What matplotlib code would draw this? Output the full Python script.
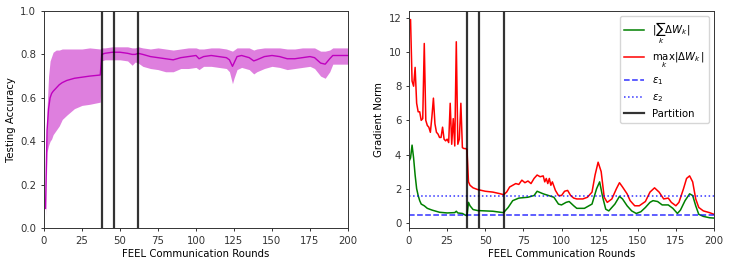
import matplotlib
matplotlib.use("Agg")
import matplotlib.pyplot as plt
import numpy as np

plt.rcParams['font.size'] = 7.3
plt.rcParams['axes.edgecolor'] = '#333333'
plt.rcParams['xtick.color'] = '#333333'
plt.rcParams['ytick.color'] = '#333333'
plt.rcParams['axes.linewidth'] = 0.7

# ---------------- Accuracy data ----------------
acc_rounds = [1, 2, 3, 4, 5, 6, 8, 10, 12, 15, 20, 25, 30, 37, 38, 40, 45, 50, 55, 58, 60, 62, 65,
              70, 75, 80, 85, 90, 95, 100, 102, 105, 110, 115, 120, 122, 124, 125, 127, 130, 135,
              138, 140, 145, 150, 155, 160, 165, 170, 175, 178, 182, 185, 188, 190, 195, 200]
acc_mean = [0.09, 0.45, 0.55, 0.60, 0.62, 0.63, 0.645, 0.66, 0.67, 0.68, 0.69, 0.695, 0.70, 0.705,
            0.80, 0.805, 0.81, 0.81, 0.805, 0.80, 0.80, 0.805, 0.80,
            0.79, 0.785, 0.78, 0.775, 0.785, 0.79, 0.795, 0.78, 0.79, 0.795, 0.79, 0.785, 0.775,
            0.745, 0.76, 0.79, 0.795, 0.785,
            0.77, 0.775, 0.79, 0.795, 0.79, 0.78, 0.78, 0.785, 0.79, 0.785, 0.76, 0.755, 0.78,
            0.795, 0.795, 0.795]
acc_upper = [0.10, 0.55, 0.70, 0.77, 0.79, 0.81, 0.82, 0.82, 0.825, 0.825, 0.825, 0.825, 0.83, 0.825,
             0.83, 0.83, 0.835, 0.835, 0.835, 0.83, 0.83, 0.835, 0.83,
             0.825, 0.83, 0.825, 0.82, 0.825, 0.83, 0.83, 0.825, 0.825, 0.83, 0.83, 0.825, 0.82,
             0.815, 0.82, 0.83, 0.83, 0.83,
             0.82, 0.825, 0.83, 0.83, 0.83, 0.825, 0.825, 0.83, 0.83, 0.83, 0.815, 0.815, 0.82,
             0.83, 0.83, 0.83]
acc_lower = [0.05, 0.35, 0.38, 0.40, 0.41, 0.43, 0.45, 0.47, 0.50, 0.52, 0.55, 0.565, 0.57, 0.58,
             0.77, 0.775, 0.775, 0.775, 0.77, 0.75, 0.765, 0.76, 0.745,
             0.735, 0.73, 0.72, 0.72, 0.735, 0.735, 0.74, 0.73, 0.745, 0.745, 0.74, 0.735, 0.72,
             0.665, 0.69, 0.73, 0.74, 0.73,
             0.71, 0.72, 0.735, 0.745, 0.74, 0.73, 0.735, 0.74, 0.745, 0.735, 0.70, 0.69, 0.72,
             0.755, 0.755, 0.755]

# ---------------- Gradient norm data ----------------
sum_rounds = [0, 1, 2, 3, 4, 5, 6, 7, 8, 10, 12, 15, 20, 25, 30, 31, 32, 35, 37, 38, 39, 40, 42,
              45, 50, 55, 60, 62, 65, 68, 72, 78, 82, 84, 88, 95, 98, 100, 103, 105, 108, 110, 115,
              120, 123, 125, 127, 129, 131, 135, 138, 140, 143, 146, 149, 152, 155, 158, 160, 163,
              166, 170, 173, 176, 178, 181, 184, 186, 188, 190, 193, 197, 200]
sum_norm = [3.6, 3.8, 4.55, 3.8, 2.8, 2.0, 1.6, 1.3, 1.1, 1.0, 0.85, 0.75, 0.62, 0.58, 0.6, 0.68,
            0.58, 0.55, 0.45, 0.42, 1.2, 1.0, 0.78, 0.72, 0.70, 0.68, 0.62, 0.60, 0.9, 1.3, 1.45,
            1.5, 1.6, 1.85, 1.7, 1.5, 1.1, 1.05, 1.2, 1.25, 1.0, 0.85, 0.85, 1.1, 2.0, 2.4, 1.5,
            0.8, 0.7, 1.1, 1.55, 1.4, 1.0, 0.7, 0.55, 0.65, 0.9, 1.2, 1.3, 1.25, 1.05, 1.05, 0.85,
            0.55, 0.75, 1.3, 1.7, 1.6, 1.0, 0.5, 0.38, 0.3, 0.28]

max_rounds = [0, 1, 2, 3, 4, 5, 6, 7, 8, 9, 10, 11, 12, 13, 14, 15, 16, 17, 18, 19, 20, 21, 22,
              23, 24, 25, 26, 27, 28, 29, 30, 31, 32, 33, 34, 35, 36, 37, 38, 39, 40, 42, 45, 50,
              55, 60, 62, 64, 66, 68, 70, 72, 74, 76, 78, 80, 82, 84, 86, 88, 89, 90, 91, 92, 93,
              94, 96, 98, 100, 102, 104, 106, 108, 110, 114, 117, 120, 122, 124, 126, 128, 130,
              133, 136, 138, 140, 143, 145, 148, 151, 155, 158, 161, 164, 167, 170, 172, 175, 177,
              180, 182, 184, 186, 188, 190, 193, 197, 200]
max_norm = [11.8, 11.9, 8.3, 8.0, 9.1, 7.0, 6.5, 6.5, 6.0, 6.1, 10.5, 6.0, 5.7, 5.6, 5.3, 6.2,
            7.3, 5.8, 5.3, 5.2, 5.0, 5.0, 5.6, 4.9, 4.8, 4.9, 4.7, 7.0, 4.6, 6.1, 4.5, 10.6, 4.6,
            4.9, 7.0, 4.4, 4.35, 4.35, 4.3, 2.4, 2.2, 2.05, 1.95, 1.85, 1.8, 1.7, 1.65, 1.8, 2.1,
            2.2, 2.3, 2.25, 2.5, 2.35, 2.45, 2.3, 2.6, 2.8, 2.7, 2.75, 2.4, 2.6, 2.3, 2.6, 2.2,
            2.4, 1.9, 1.6, 1.6, 1.85, 1.9, 1.6, 1.45, 1.4, 1.4, 1.5, 1.8, 2.8, 3.55, 3.0, 1.5,
            1.2, 1.4, 2.0, 2.35, 2.1, 1.7, 1.3, 1.0, 1.0, 1.25, 1.8, 2.05, 1.8, 1.4, 1.45, 1.2,
            1.0, 1.2, 2.0, 2.6, 2.75, 2.4, 1.4, 0.9, 0.7, 0.6, 0.5]

eps1 = 0.45
eps2 = 1.6
partitions = [38, 46, 62]

fig = plt.figure(figsize=(7.3, 2.66), dpi=100)
ax1 = fig.add_axes([0.0603, 0.1429, 0.4164, 0.8157])
ax2 = fig.add_axes([0.5603, 0.1429, 0.4178, 0.8157])

ax1.fill_between(acc_rounds, acc_lower, acc_upper, color='m', alpha=0.5, lw=0)
ax1.plot(acc_rounds, acc_mean, color='m', lw=1.0)
for p in partitions:
    ax1.axvline(p, color='k', alpha=0.8, lw=1.6)
ax1.set_xlim(0, 200)
ax1.set_ylim(0, 1)
ax1.set_xlabel('FEEL Communication Rounds', labelpad=2.5)
ax1.set_ylabel('Testing Accuracy', labelpad=3)

ax2.plot(sum_rounds, sum_norm, color='g', lw=1.1, label=r'$|\sum_k \Delta W_k|$')
ax2.plot(max_rounds, max_norm, color='r', lw=1.1, label=r'$\max_k |\Delta W_k|$')
ax2.axhline(eps1, color='b', ls='--', alpha=0.8, lw=1.1, label=r'$\epsilon_1$')
ax2.axhline(eps2, color='b', ls=':', alpha=0.8, lw=1.1, label=r'$\epsilon_2$')
for i, p in enumerate(partitions):
    ax2.axvline(p, color='k', alpha=0.8, lw=1.6, label='Partition' if i == 0 else None)
ax2.set_xlim(0, 200)
ax2.set_ylim(-0.3, 12.4)
ax2.set_yticks([0, 2, 4, 6, 8, 10, 12])
ax2.set_xlabel('FEEL Communication Rounds', labelpad=2.5)
ax2.set_ylabel('Gradient Norm', labelpad=3)
ax2.legend(loc='upper right')

for ax in (ax1, ax2):
    ax.set_xticks([0, 25, 50, 75, 100, 125, 150, 175, 200])
    ax.tick_params(length=2.5, width=0.7, pad=3)

fig.savefig('out.png', dpi=100)
